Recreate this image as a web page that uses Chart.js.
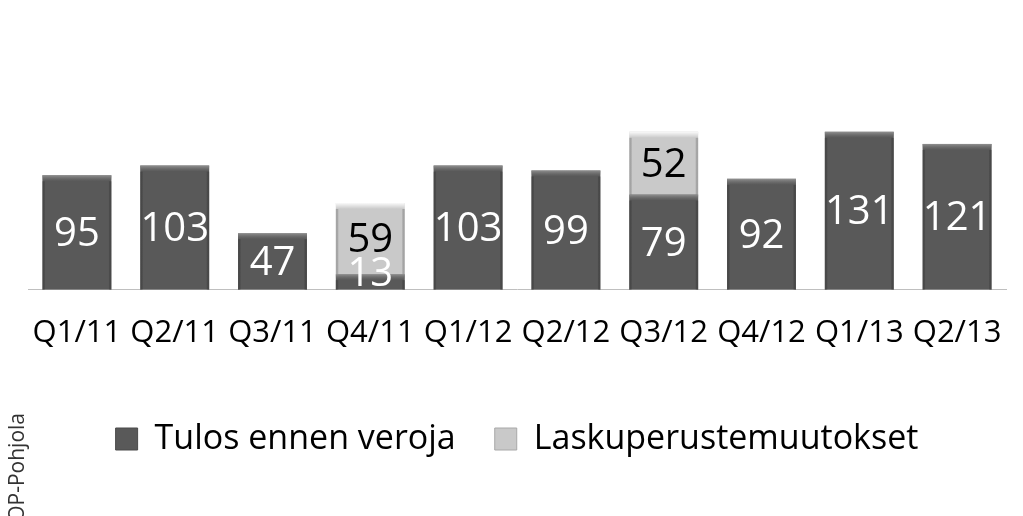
<!DOCTYPE html>
<html>
<head>
<meta charset="utf-8">
<script src="https://cdn.jsdelivr.net/npm/chart.js@4/dist/chart.umd.min.js"></script>
<style>
html,body{margin:0;padding:0;background:#fff;}
#wrap{width:1023px;height:516px;position:relative;}
</style>
</head>
<body>
<div id="wrap"><canvas id="c"></canvas></div>
<script>
const categories = ["Q1/11","Q2/11","Q3/11","Q4/11","Q1/12","Q2/12","Q3/12","Q4/12","Q1/13","Q2/13"];
const tulosEnnenVeroja = [95,103,47,13,103,99,79,92,131,121];
const laskuperustemuutokset = [null,null,null,59,null,null,52,null,null,null];
const seriesNames = ["Tulos ennen veroja","Laskuperustemuutokset"];
const sourceText = "OP-Pohjola";

const FONT = "'Open Sans', 'DejaVu Sans', sans-serif";
const DARK = "#595959";
const LIGHT = "#c9c9c9";

const bevelPlugin = {
  id: 'bevel',
  afterDatasetsDraw(chart) {
    const ctx = chart.ctx;
    chart.data.datasets.forEach((ds, di) => {
      const meta = chart.getDatasetMeta(di);
      meta.data.forEach((bar, i) => {
        if (ds.data[i] == null) return;
        const left = bar.x - bar.width / 2, right = bar.x + bar.width / 2;
        const top = Math.min(bar.y, bar.base), bottom = Math.max(bar.y, bar.base);
        const h = bottom - top;
        const light = di === 1;
        ctx.save();
        const bh = Math.min(6, h);
        let g = ctx.createLinearGradient(0, top, 0, top + bh);
        g.addColorStop(0, light ? 'rgba(255,255,255,0.9)' : 'rgba(150,150,150,0.9)');
        g.addColorStop(1, light ? 'rgba(255,255,255,0)' : 'rgba(120,120,120,0)');
        ctx.fillStyle = g;
        ctx.fillRect(left, top, bar.width, bh);
        const sw = 3;
        g = ctx.createLinearGradient(left, 0, left + sw, 0);
        g.addColorStop(0, light ? 'rgba(160,160,160,0.6)' : 'rgba(70,70,70,0.6)');
        g.addColorStop(1, 'rgba(0,0,0,0)');
        ctx.fillStyle = g;
        ctx.fillRect(left, top + bh, sw, h - bh);
        g = ctx.createLinearGradient(right, 0, right - sw, 0);
        g.addColorStop(0, light ? 'rgba(160,160,160,0.6)' : 'rgba(70,70,70,0.6)');
        g.addColorStop(1, 'rgba(0,0,0,0)');
        ctx.fillStyle = g;
        ctx.fillRect(right - sw, top + bh, sw, h - bh);
        ctx.restore();
      });
    });
  }
};

const labelPlugin = {
  id: 'valueLabels',
  afterDatasetsDraw(chart) {
    const ctx = chart.ctx;
    ctx.save();
    ctx.font = "40px " + FONT;
    ctx.textAlign = 'center';
    ctx.textBaseline = 'middle';
    chart.data.datasets.forEach((ds, di) => {
      const meta = chart.getDatasetMeta(di);
      meta.data.forEach((bar, i) => {
        const v = ds.data[i];
        if (v == null) return;
        let cy = (bar.y + bar.base) / 2;
        cy = Math.min(cy, bar.base - 17);
        ctx.fillStyle = di === 0 ? '#ffffff' : '#000000';
        ctx.fillText(String(v), bar.x, cy + 2);
      });
    });
    ctx.restore();
  }
};

const sourcePlugin = {
  id: 'sourceText',
  afterDraw(chart) {
    const ctx = chart.ctx;
    ctx.save();
    ctx.translate(24, 413);
    ctx.rotate(-Math.PI / 2);
    ctx.font = "21px " + FONT;
    ctx.fillStyle = '#333333';
    ctx.textAlign = 'right';
    ctx.textBaseline = 'alphabetic';
    ctx.fillText(sourceText, 0, 0);
    ctx.restore();
  }
};

new Chart(document.getElementById('c'), {
  type: 'bar',
  data: {
    labels: categories,
    datasets: [
      { label: seriesNames[0], data: tulosEnnenVeroja, backgroundColor: DARK, borderWidth: 0,
        barPercentage: 0.705, categoryPercentage: 1.0, stack: 's' },
      { label: seriesNames[1], data: laskuperustemuutokset, backgroundColor: LIGHT, borderWidth: 0,
        barPercentage: 0.705, categoryPercentage: 1.0, stack: 's' }
    ]
  },
  options: {
    responsive: true,
    maintainAspectRatio: false,
    animation: false,
    devicePixelRatio: 1,
    layout: { padding: { left: 28, right: 17, top: 121, bottom: 50 } },
    plugins: {
      legend: {
        position: 'bottom',
        labels: {
          font: { family: FONT, size: 34 },
          color: '#000000',
          boxWidth: 22,
          boxHeight: 22,
          padding: 39,
          generateLabels(chart) {
            return chart.data.datasets.map((ds, i) => ({
              text: ds.label,
              fillStyle: ds.backgroundColor,
              strokeStyle: i === 0 ? '#4a4a4a' : '#a8a8a8',
              lineWidth: 1,
              datasetIndex: i,
              hidden: false
            }));
          }
        }
      },
      tooltip: { enabled: false }
    },
    scales: {
      x: {
        stacked: true,
        grid: { display: false },
        border: { display: true, color: '#bfbfbf', width: 1 },
        ticks: { font: { family: FONT, size: 31 }, color: '#000000', padding: 17, maxRotation: 0, autoSkip: false },
        afterFit(scale) { scale.height += 14; }
      },
      y: {
        stacked: true,
        display: false,
        min: 0,
        max: 140
      }
    }
  },
  plugins: [bevelPlugin, labelPlugin, sourcePlugin]
});
</script>
</body>
</html>
